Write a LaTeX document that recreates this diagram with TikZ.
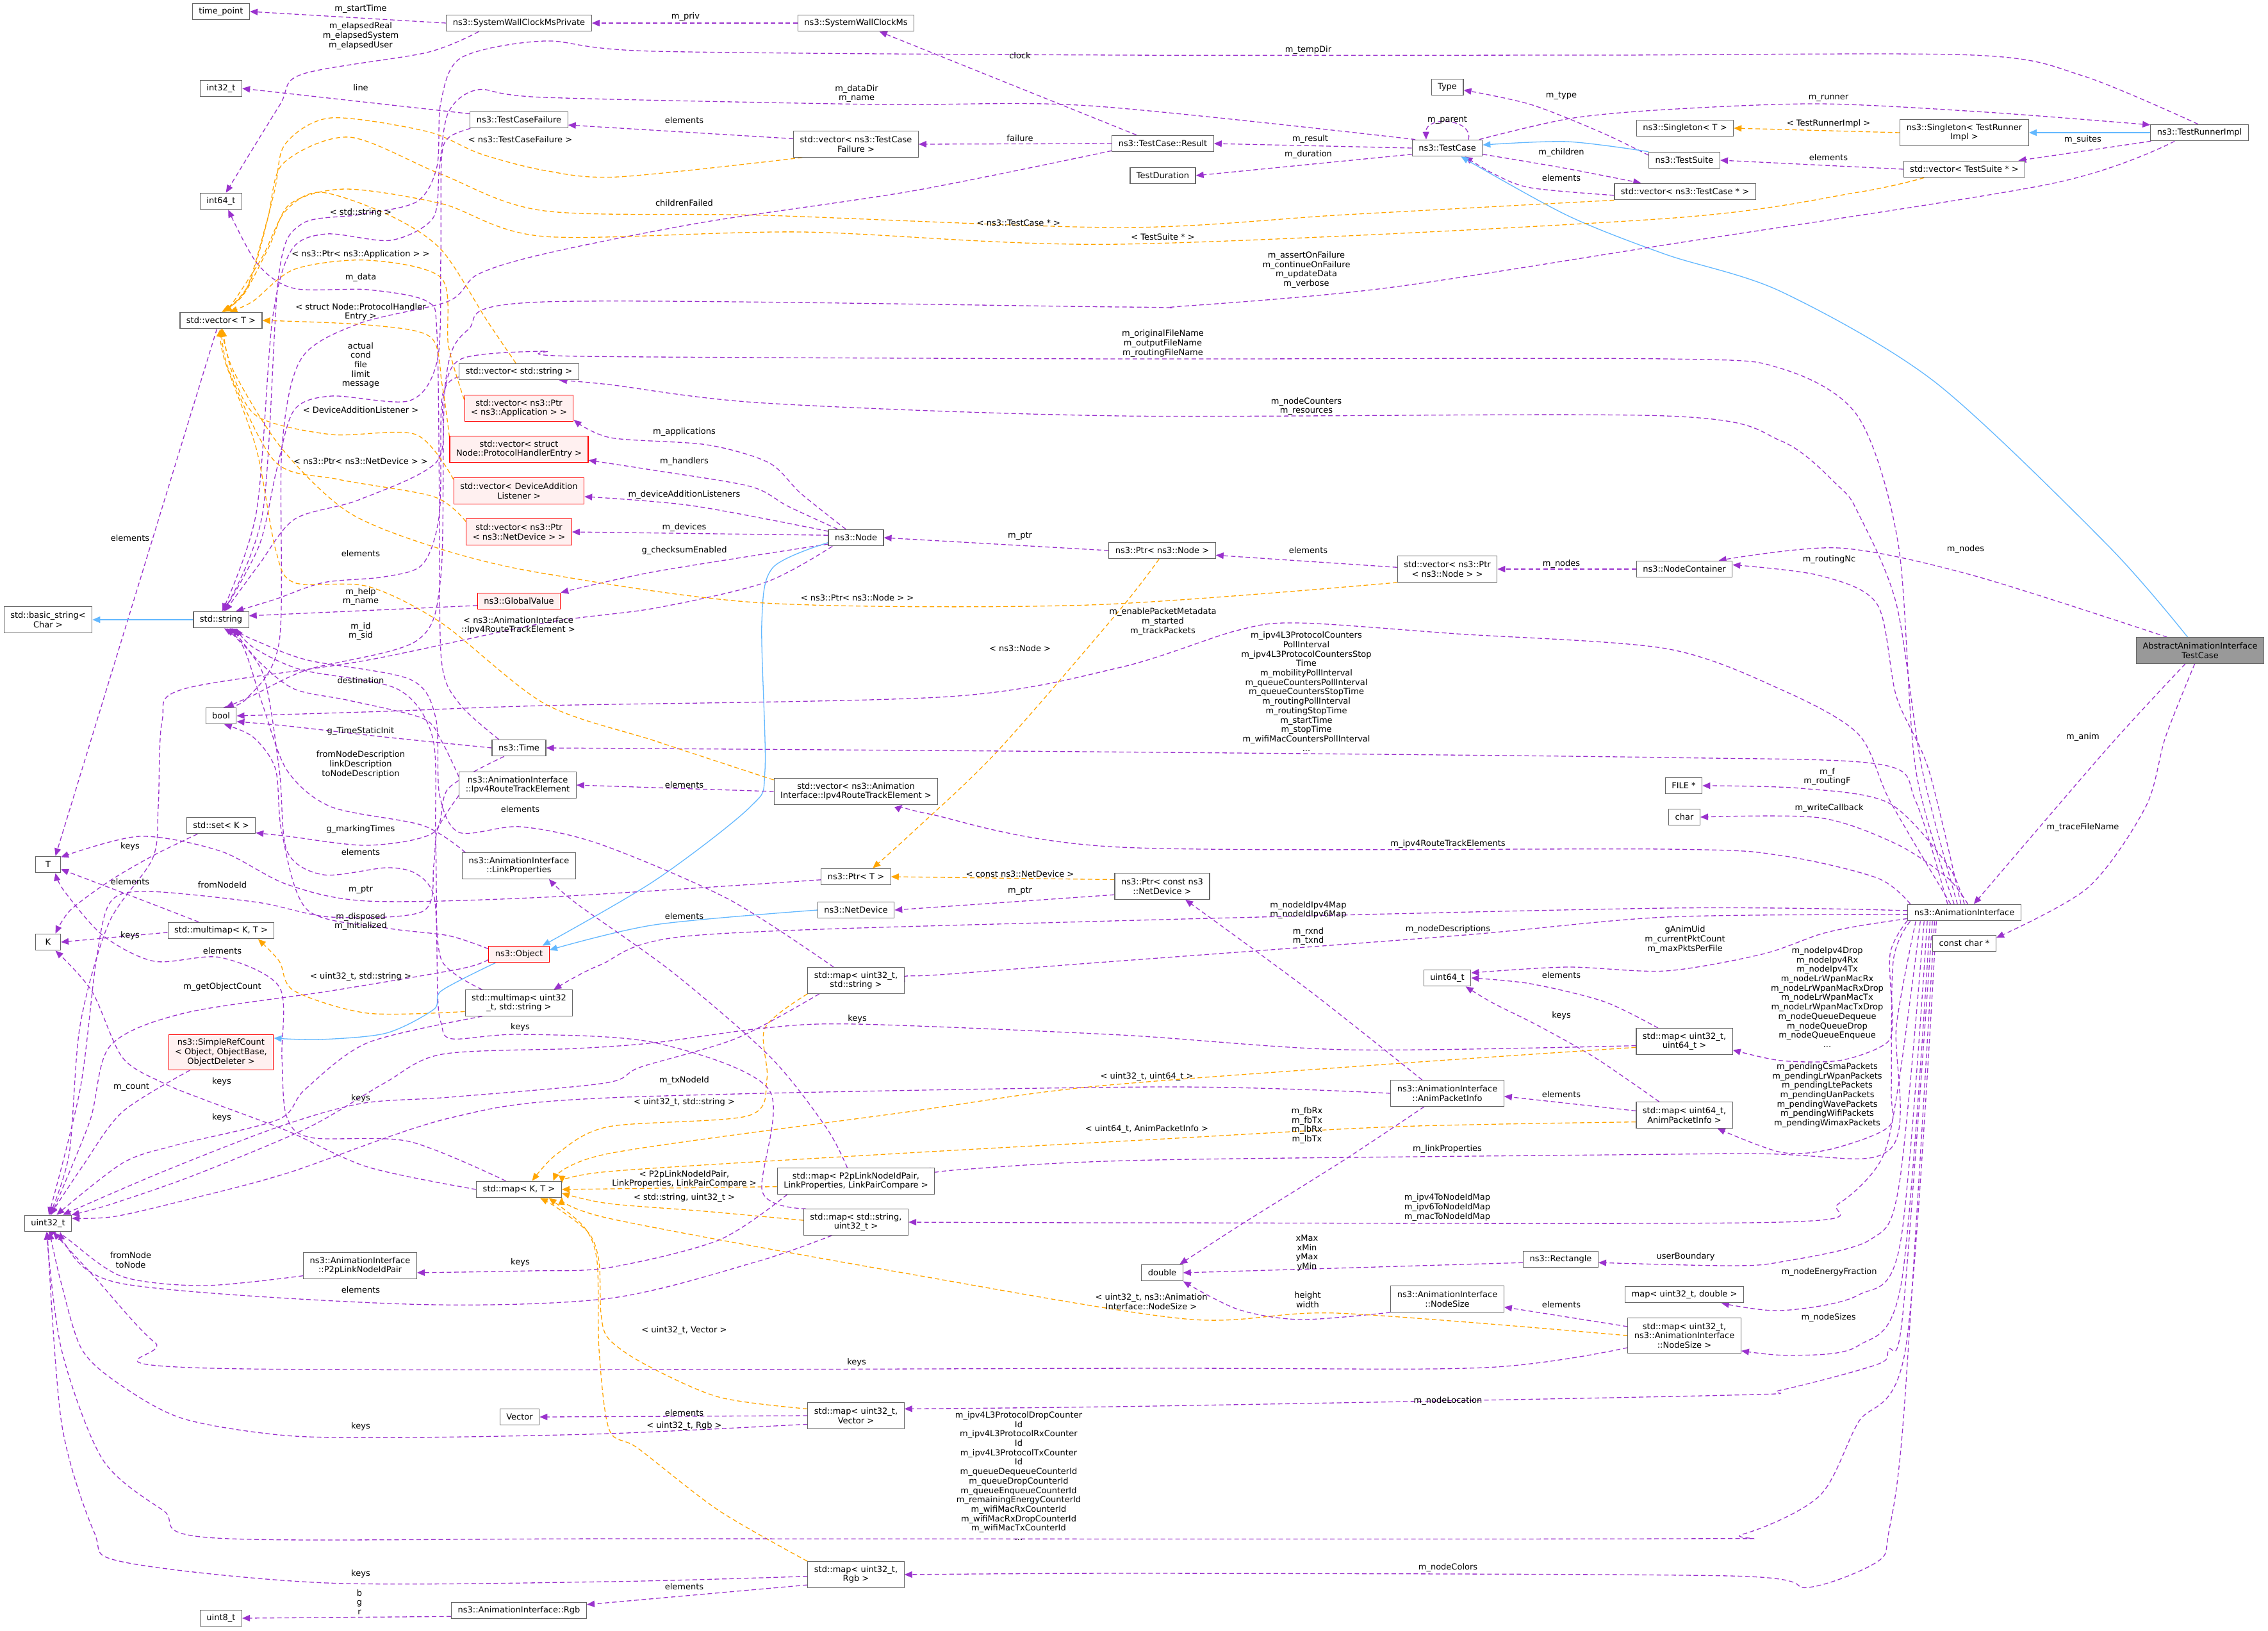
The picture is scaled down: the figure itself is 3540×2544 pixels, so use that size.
\documentclass[tikz,border=0pt]{standalone}
\usepackage{fontspec}
\setmainfont{DejaVu Sans}
\usetikzlibrary{arrows.meta}
\definecolor{pur}{HTML}{9A32CD}
\definecolor{org}{HTML}{FFA500}
\definecolor{blu}{HTML}{63B8FF}
\definecolor{bdr}{HTML}{666666}
\definecolor{rfill}{HTML}{FFF0F0}
\definecolor{rootfill}{HTML}{999999}
\pgfdeclarelayer{bgw}
\pgfdeclarelayer{bg}
\pgfsetlayers{bgw,bg,main}
\newcommand{\cnx}[2]{\draw[#1] plot[smooth,tension=0.5] coordinates {#2};}
\newcommand{\lbx}[3]{\node[lbl] (#1) at (#2) {#3};}
\tikzset{
 every node/.style={font=\fontsize{13}{14.7}\selectfont},
 box/.style={draw=bdr, line width=1.2pt, fill=white, inner xsep=10pt, inner ysep=0pt, minimum height=25.5pt, align=center},
 box2/.style={box, minimum height=40.5pt},
 box3/.style={box, minimum height=55pt},
 rbox/.style={box, draw=red, fill=rfill},
 rbox2/.style={box2, draw=red, fill=rfill},
 rbox3/.style={box3, draw=red, fill=rfill},
 root/.style={box2, fill=rootfill},
 lbl/.style={inner sep=0pt, align=center},
 pe/.style={draw=pur, line width=1.3pt, dash pattern=on 7pt off 4.5pt, -{Triangle[length=12pt,width=10pt]}, fill=none},
 oe/.style={draw=org, line width=1.3pt, dash pattern=on 7pt off 4.5pt, -{Triangle[length=12pt,width=10pt]}},
 be/.style={draw=blu, line width=1.3pt, -{Triangle[length=12pt,width=10pt]}},
}
\begin{document}
\begin{tikzpicture}[x=1pt,y=-1pt]
\begin{pgfonlayer}{bgw}
\fill[white] (0,0) rectangle (3540,2544);
\end{pgfonlayer}
\useasboundingbox (0,0) rectangle (3540,2544);
% ---------------- nodes
\node[box] (tp) at (345,18) {time\_point};
\node[box] (swcp) at (810,36) {ns3::SystemWallClockMsPrivate};
\node[box] (swc) at (1336,36) {ns3::SystemWallClockMs};
\node[box] (i32) at (345,138) {int32\_t};
\node[box] (tcf) at (810,187) {ns3::TestCaseFailure};
\node[box2] (vtcf) at (1336,225) {std::vector< ns3::TestCase\\Failure >};
\node[box] (tcr) at (1815,224) {ns3::TestCase::Result};
\node[box] (tdur) at (1815,274) {TestDuration};
\node[box] (type) at (2259,136) {Type};
\node[box] (tc) at (2259,231) {ns3::TestCase};
\node[box] (singT) at (2630,200) {ns3::Singleton< T >};
\node[box] (ts) at (2629,250) {ns3::TestSuite};
\node[box] (vtc) at (2630,299) {std::vector< ns3::TestCase * >};
\node[box2] (singR) at (3066,207) {ns3::Singleton< TestRunner\\Impl >};
\node[box] (vts) at (3066,264) {std::vector< TestSuite * >};
\node[box] (tri) at (3433,207) {ns3::TestRunnerImpl};
\node[box] (i64) at (345,314) {int64\_t};
\node[box] (vecT) at (345,500) {std::vector< T >};
\node[box] (vstr) at (810,580) {std::vector< std::string >};
\node[rbox2] (vapp) at (810,637) {std::vector< ns3::Ptr\\< ns3::Application > >};
\node[rbox2] (vphe) at (810,701) {std::vector< struct\\Node::ProtocolHandlerEntry >};
\node[rbox2] (vdal) at (810,766) {std::vector< DeviceAddition\\Listener >};
\node[rbox2] (vnd) at (810,830) {std::vector< ns3::Ptr\\< ns3::NetDevice > >};
\node[box] (nnode) at (1336,839) {ns3::Node};
\node[box] (ptrnode) at (1814,859) {ns3::Ptr< ns3::Node >};
\node[box2] (vptrnode) at (2259,888) {std::vector< ns3::Ptr\\< ns3::Node > >};
\node[box] (nc) at (2629,888) {ns3::NodeContainer};
\node[root] (aaitc) at (3434,1015) {AbstractAnimationInterface\\TestCase};
\node[box2] (bstr) at (75,967) {std::basic\_string<\\Char >};
\node[box] (str) at (345,967) {std::string};
\node[rbox] (gv) at (810,938) {ns3::GlobalValue};
\node[box] (bool) at (345,1117) {bool};
\node[box] (ntime) at (810,1167) {ns3::Time};
\node[box2] (irte) at (808,1225) {ns3::AnimationInterface\\::Ipv4RouteTrackElement};
\node[box2] (virte) at (1336,1235) {std::vector< ns3::Animation\\Interface::Ipv4RouteTrackElement >};
\node[box] (nfile) at (2628,1226) {FILE *};
\node[box] (chr) at (2629,1275) {char};
\node[box] (nset) at (345,1288) {std::set< K >};
\node[box, minimum width=39pt] (T) at (75,1349) {T};
\node[box2] (lp) at (810,1351) {ns3::AnimationInterface\\::LinkProperties};
\node[box] (ptrT) at (1336,1368) {ns3::Ptr< T >};
\node[box2] (ptrcnd) at (1814,1383) {ns3::Ptr< const ns3\\::NetDevice >};
\node[box] (nd) at (1336,1420) {ns3::NetDevice};
\node[box] (ai) at (3066,1424) {ns3::AnimationInterface};
\node[box] (cch) at (3066,1472) {const char *};
\node[box, minimum width=39pt] (K) at (75,1470) {K};
\node[box] (mmKT) at (345,1452) {std::multimap< K, T >};
\node[rbox] (obj) at (810,1489) {ns3::Object};
\node[box2] (mapu32s) at (1336,1530) {std::map< uint32\_t,\\std::string >};
\node[box] (u64) at (2259,1526) {uint64\_t};
\node[box2] (mmu32s) at (810,1565) {std::multimap< uint32\\\_t, std::string >};
\node[box2] (mapu32u64) at (2629,1625) {std::map< uint32\_t,\\uint64\_t >};
\node[rbox3] (src) at (345,1642) {ns3::SimpleRefCount\\< Object, ObjectBase,\\ObjectDeleter >};
\node[box2] (api) at (2259,1706) {ns3::AnimationInterface\\::AnimPacketInfo};
\node[box2] (mapu64api) at (2629,1740) {std::map< uint64\_t,\\AnimPacketInfo >};
\node[box2] (mapp2p) at (1336,1843) {std::map< P2pLinkNodeIdPair,\\LinkProperties, LinkPairCompare >};
\node[box] (mapKT) at (810,1856) {std::map< K, T >};
\node[box2] (mapsu32) at (1336,1907) {std::map< std::string,\\uint32\_t >};
\node[box] (u32) at (75,1909) {uint32\_t};
\node[box] (rect) at (2436,1965) {ns3::Rectangle};
\node[box2] (p2p) at (562,1975) {ns3::AnimationInterface\\::P2pLinkNodeIdPair};
\node[box] (dbl) at (1814,1986) {double};
\node[box2] (ns) at (2259,2027) {ns3::AnimationInterface\\::NodeSize};
\node[box] (mapu32d) at (2629,2020) {map< uint32\_t, double >};
\node[box3] (mapu32ns) at (2629,2084) {std::map< uint32\_t,\\ns3::AnimationInterface\\::NodeSize >};
\node[box] (vec) at (811,2211) {Vector};
\node[box2] (mapu32v) at (1336,2209) {std::map< uint32\_t,\\Vector >};
\node[box2] (mapu32rgb) at (1336,2457) {std::map< uint32\_t,\\Rgb >};
\node[box] (u8) at (345,2525) {uint8\_t};
\node[box] (rgb) at (810,2513) {ns3::AnimationInterface::Rgb};
% ---------------- edges
\begin{pgfonlayer}{bg}
\draw[pe] (swcp.west) -- (tp.east);
\cnx{pe}{(swcp.192) (666,82) (471,116) (436,165) (i64.60)}
\draw[pe] (swc.west) -- (swcp.east);
\draw[pe] (tcr.162) -- (swc.-20);
\cnx{pe}{(tri.100) (3250,118) (3080,86) (2500,86) (1750,86) (1022,80) (850,64) (720,90) (688,160) (682,260) (650,315) (560,335) (470,350) (435,430) (410,800) (str.75)}
\draw[pe] (tcf.173) -- (i32.east);
\draw[pe] (vtcf.175) -- (tcf.-6);
\cnx{oe}{(vtcf.-166) (965,276) (850,266) (750,240) (666,205) (516,184) (445,225) (428,300) (390,440) (vecT.75)}
\draw[pe] (tcr.west) -- (vtcf.east);
\cnx{pe}{(tcr.188) (1424,298) (1097,347) (850,396) (746,428) (700,470) (560,505) (470,560) (440,700) (436,1000) (385,1090) (bool.75)}
\draw[pe] (tc.west) -- (tcr.east);
\draw[pe] (tc.190) -- (tdur.east);
\cnx{pe}{(tc.165) (1700,165) (1366,163) (850,152) (746,140) (700,175) (686,260) (676,340) (610,375) (510,365) (455,390) (425,500) (400,800) (str.82)}
\draw[pe] (tc.22) .. controls (2300,185) and (2225,180) .. (tc.158);
\cnx{pe}{(ts.172) (2498,206) (2389,163) (type.-10)}
\cnx{pe}{(tc.15) (2450,185) (2600,171) (2840,162) (3100,175) (tri.171)}
\cnx{be}{(ts.north west) (2446,221) (tc.5)}
\cnx{pe}{(tc.-10) (2440,262) (vtc.169)}
\cnx{pe}{(vtc.183) (2389,293) (2331,271) (tc.-26)}
\cnx{be}{(aaitc.133) (3289,850) (3020,596) (2780,455) (2600,397) (2446,336) (tc.-32)}
\cnx{oe}{(vtc.south west) (2100,335) (1750,355) (1194,336) (850,329) (689,272) (545,214) (442,255) (418,340) (385,450) (vecT.80)}
\draw[oe] (singR.west) -- (singT.east);
\draw[be] (tri.west) -- (singR.east);
\draw[pe] (tri.190) -- (vts.9);
\draw[pe] (vts.west) -- (ts.east);
\cnx{oe}{(vts.-168) (2900,300) (2600,341) (1750,381) (1252,362) (850,369) (690,318) (540,295) (453,318) (420,385) (380,460) (vecT.85)}
\cnx{pe}{(tri.-161) (3200,287) (2600,382) (2159,450) (1843,478) (1750,479) (850,471) (730,515) (695,600) (688,900) (650,1000) (480,1045) (395,1085) (bool.60)}
% node group
\cnx{pe}{(nnode.140) (1250,770) (1200,722) (1103,694) (953,683) (vapp.-12)}
\cnx{pe}{(nnode.155) (1230,790) (1171,759) (1022,734) (vphe.-9)}
\cnx{pe}{(nnode.167) (1080,789) (vdal.-5)}
\draw[pe] (nnode.175) -- (vnd.east);
\cnx{pe}{(nnode.-167) (1022,892) (gv.north east)}
\cnx{pe}{(nnode.-160) (1194,909) (1022,949) (850,972) (574,1030) (287,1075) (253,1125) (247,1259) (238,1340) (170,1440) (125,1600) (108,1800) (u32.80)}
\cnx{be}{(nnode.-170) (1206,886) (1189,972) (1194,1202) (1171,1259) (1022,1374) (obj.20)}
\cnx{be}{(nd.west) (1022,1443) (obj.8)}
\draw[pe] (ptrnode.west) -- (nnode.east);
\draw[pe] (vptrnode.178) -- (ptrnode.-5);
\draw[pe] (nc.west) -- (vptrnode.east);
\cnx{oe}{(vptrnode.-165) (1700,944) (1194,941) (850,895) (689,857) (545,800) (440,700) (365,580) (vecT.-85)}
\cnx{oe}{(ptrnode.-110) (1745,955) (1556,1173) (1424,1299) (ptrT.27)}
\draw[oe] (ptrcnd.172) -- (ptrT.east);
\draw[pe] (ptrcnd.190) -- (nd.east);
\cnx{pe}{(api.152) (2044,1546) (ptrcnd.-30)}
\cnx{pe}{(ai.171) (2930,1370) (2780,1335) (2600,1325) (1750,1322) (1450,1270) (virte.-16)}
\draw[pe] (virte.west) -- (irte.east);
\cnx{pe}{(ai.153) (2990,1250) (2936,1193) (2600,1182) (1700,1173) (ntime.east)}
\cnx{pe}{(ai.148) (2950,1250) (2900,1145) (2780,1076) (2600,1012) (2274,989) (2027,972) (1930,984) (1750,1041) (1481,1087) (850,1101) (600,1110) (bool.east)}
\cnx{pe}{(ai.140) (2990,1200) (2963,850) (2900,650) (2780,575) (2600,560) (1750,560) (907,556) (850,548) (720,560) (692,620) (682,720) (560,780) (460,810) (405,880) (str.65)}
\cnx{pe}{(ai.129) (3000,1200) (2960,943) (2900,800) (2870,759) (2780,688) (2600,649) (1750,649) (1194,629) (950,600) (vstr.-12)}
\cnx{pe}{(ai.112) (3010,1200) (2960,1087) (2930,943) (2840,898) (nc.5)}
\cnx{pe}{(aaitc.158) (3080,898) (2870,855) (nc.14)}
\cnx{pe}{(aaitc.-138) (3289,1168) (ai.42)}
\cnx{pe}{(aaitc.-112) (3380,1150) (3349,1259) (3259,1385) (cch.10)}
\cnx{pe}{(ai.90) (3040,1350) (2948,1253) (2810,1230) (nfile.east)}
\cnx{pe}{(ai.68) (3040,1370) (2960,1317) (2840,1276) (chr.east)}
\cnx{pe}{(ai.-174) (2900,1445) (2840,1458) (2750,1489) (2600,1515) (2446,1509) (u64.12)}
\cnx{pe}{(mapu32u64.153) (2504,1563) (2389,1535) (u64.east)}
\cnx{pe}{(mapu64api.152) (2489,1650) (2400,1600) (2330,1565) (u64.-25)}
\cnx{pe}{(ai.-172) (2950,1489) (2954,1604) (2936,1633) (2870,1655) (2780,1655) (mapu32u64.-10)}
\cnx{pe}{(ai.-171) (2955,1500) (2952,1700) (2948,1758) (2858,1793) (2780,1798) (mapu64api.-22)}
\cnx{pe}{(ai.-170) (2960,1600) (2948,1795) (2700,1800) (1800,1810) (1500,1825) (mapp2p.5)}
\cnx{pe}{(ai.-169) (2962,1700) (2936,1810) (2870,1878) (2780,1907) (1800,1908) (mapsu32.east)}
\cnx{pe}{(ai.-168) (2964,1850) (2918,1935) (2780,1969) (2700,1975) (rect.-5)}
\draw[pe] (rect.185) -- (dbl.east);
\cnx{pe}{(ai.-167) (2966,1940) (2900,2021) (2780,2045) (mapu32d.-13)}
\cnx{pe}{(ai.-166) (2968,2000) (2900,2100) (2798,2115) (mapu32ns.-15)}
\draw[pe] (mapu32ns.171) -- (ns.-8);
\cnx{pe}{(ns.south west) (2030,2059) (1932,2043) (dbl.south east)}
\cnx{pe}{(api.-150) (2098,1810) (1943,1907) (dbl.26)}
\draw[pe] (mapu64api.175) -- (api.-3);
\cnx{oe}{(mapu64api.-172) (2179,1758) (1800,1778) (1400,1800) (950,1828) (mapKT.8)}
\cnx{oe}{(mapu32u64.-173) (2159,1661) (1700,1696) (1409,1736) (950,1800) (mapKT.14)}
\cnx{oe}{(mapu32s.south west) (1194,1604) (1197,1684) (1168,1741) (950,1758) (870,1800) (mapKT.33)}
\draw[oe] (mapp2p.-176) -- (mapKT.east);
\cnx{oe}{(mapsu32.178) (1100,1890) (950,1878) (mapKT.-5)}
\cnx{oe}{(mapu32ns.180) (2087,2049) (1850,2058) (1409,1986) (950,1901) (mapKT.-10)}
\cnx{oe}{(mapu32v.172) (1122,2180) (1007,2129) (950,2089) (938,2049) (935,1969) (919,1924) (870,1885) (mapKT.-22)}
\cnx{oe}{(mapu32rgb.north west) (1122,2357) (996,2260) (951,2231) (935,2106) (932,1969) (912,1915) (mapKT.-16)}
\draw[pe] (mapu32v.west) -- (vec.east);
\cnx{pe}{(mapu32v.-170) (950,2237) (638,2243) (447,2240) (287,2214) (191,2163) (128,2106) (95,2000) (u32.-80)}
\cnx{pe}{(ai.-165) (2970,2050) (2948,2106) (2930,2129) (2780,2169) (2700,2177) (1800,2194) (mapu32v.8)}
\draw[pe] (mapu32rgb.-168) -- (rgb.5);
\cnx{pe}{(mapu32rgb.-178) (950,2468) (510,2470) (191,2437) (147,2391) (96,2220) (u32.-95)}
\draw[pe] (rgb.-175) -- (u8.east);
\cnx{pe}{(ai.-164) (2972,2200) (2948,2391) (2930,2437) (2822,2477) (2700,2459) (1800,2455) (mapu32rgb.east)}
\cnx{pe}{(ai.-163) (2975,2100) (2900,2220) (2840,2334) (2720,2394) (2600,2401) (1000,2401) (338,2400) (255,2357) (160,2277) (96,2106) (u32.-100)}
\cnx{pe}{(mapu32ns.-168) (2317,2134) (1800,2135) (332,2135) (242,2095) (147,1992) (u32.-60)}
\cnx{pe}{(mapsu32.-151) (1180,1969) (950,2026) (638,2035) (191,2003) (96,1935) (u32.-45)}
\cnx{pe}{(p2p.-170) (319,2006) (191,1992) (108,1935) (u32.-35)}
\cnx{pe}{(mapp2p.-169) (1122,1935) (950,1978) (829,1983) (p2p.-7)}
\cnx{pe}{(mapp2p.123) (1290,1760) (1203,1650) (1051,1518) (900,1410) (lp.-24)}
\cnx{oe}{(mmu32s.-171) (574,1581) (459,1546) (436,1500) (mmKT.-13)}
\cnx{pe}{(mmKT.159) (218,1403) (T.-20)}
\draw[pe] (mmKT.182) -- (K.east);
\cnx{pe}{(nset.-160) (241,1334) (172,1374) (110,1420) (K.49)}
\cnx{pe}{(ptrT.-175) (850,1400) (574,1406) (448,1380) (344,1328) (218,1305) (T.30)}
\draw[pe] (vecT.-116) -- (T.49);
\cnx{pe}{(mapKT.147) (638,1781) (485,1775) (447,1741) (440,1650) (436,1540) (344,1494) (241,1500) (161,1460) (100,1390) (T.-49)}
\cnx{pe}{(mapKT.west) (574,1821) (447,1764) (319,1716) (255,1690) (191,1650) (143,1546) (K.-49)}
\cnx{pe}{(ntime.157) (717,1098) (689,1030) (686,800) (682,520) (666,470) (574,452) (459,450) (402,412) (i64.-50)}
\cnx{pe}{(tcf.-170) (700,215) (689,250) (688,400) (683,560) (640,625) (517,618) (459,640) (432,732) (405,850) (str.72)}
\cnx{pe}{(vstr.-175) (690,620) (686,800) (660,880) (600,900) (505,909) (430,935) (str.30)}
\draw[pe] (gv.-174) -- (str.8);
\cnx{pe}{(irte.172) (689,1156) (660,1121) (545,1093) (459,1075) (402,1030) (str.-37)}
\cnx{pe}{(ntime.west) (600,1150) (450,1133) (bool.-20)}
\cnx{pe}{(lp.166) (660,1288) (517,1259) (448,1202) (410,1100) (380,1010) (str.-70)}
\cnx{pe}{(ntime.-150) (700,1230) (677,1299) (574,1319) (450,1305) (nset.-12)}
\cnx{pe}{(mapu32s.149) (1137,1403) (936,1317) (812,1290) (717,1299) (686,1240) (680,1120) (640,1060) (480,1030) (400,1000) (str.-45)}
\cnx{pe}{(mmu32s.160) (690,1500) (677,1397) (649,1363) (603,1354) (505,1365) (448,1328) (436,1202) (410,1050) (str.-55)}
\cnx{pe}{(mapsu32.165) (1190,1860) (1200,1700) (1022,1627) (812,1614) (706,1621) (689,1598) (683,1546) (680,1300) (675,1150) (620,1075) (470,1045) (395,1010) (str.-30)}
\cnx{pe}{(mapu32u64.-175) (2102,1638) (1750,1615) (1338,1598) (1194,1604) (1022,1627) (900,1636) (690,1645) (600,1690) (480,1760) (300,1835) (170,1880) (u32.20)}
\cnx{pe}{(mmu32s.-160) (574,1627) (476,1700) (434,1747) (274,1787) (191,1815) (u32.45)}
\cnx{pe}{(src.-150) (191,1735) (128,1821) (u32.75)}
\cnx{be}{(obj.-160) (689,1546) (677,1575) (603,1612) (500,1622) (src.15)}
\cnx{pe}{(obj.-170) (717,1512) (517,1546) (287,1581) (172,1632) (140,1750) (u32.70)}
\cnx{pe}{(obj.170) (700,1460) (603,1448) (480,1420) (440,1300) (430,1200) (395,1150) (bool.-70)}
\cnx{pe}{(irte.-170) (683,1294) (677,1350) (660,1422) (517,1431) (402,1408) (230,1391) (172,1408) (150,1500) (125,1700) (u32.85)}
\cnx{pe}{(ai.178) (2600,1417) (1700,1438) (1080,1460) (936,1506) (mmu32s.21)}
\cnx{pe}{(ai.-178) (2600,1431) (2274,1460) (1700,1503) (1450,1522) (mapu32s.8)}
\cnx{pe}{(api.west) (1800,1696) (950,1713) (700,1745) (450,1830) (300,1870) (180,1898) (u32.12)}
\draw[be] (str.west) -- (bstr.east);
\cnx{pe}{(mapu32s.-160) (1150,1620) (1000,1665) (944,1690) (702,1712) (563,1722) (430,1760) (250,1830) (u32.30)}
\cnx{oe}{(vstr.110) (760,500) (689,390) (608,336) (500,300) (445,330) (410,400) (365,470) (vecT.70)}
\cnx{oe}{(vapp.171) (700,540) (689,434) (574,406) (460,420) (395,470) (vecT.45)}
\cnx{oe}{(vphe.170) (690,600) (672,526) (574,507) (vecT.east)}
\cnx{oe}{(vdal.170) (649,678) (517,678) (402,650) (362,580) (vecT.-80)}
\cnx{oe}{(vnd.169) (677,775) (528,748) (430,721) (358,580) (vecT.-88)}
\cnx{oe}{(virte.172) (1022,1156) (850,1098) (689,972) (574,915) (459,909) (430,857) (400,700) (350,560) (vecT.-95)}
\end{pgfonlayer}
% ---------------- labels
\lbx{l1}{563,14}{m\_startTime}
\lbx{l2}{563,56}{m\_elapsedReal\\m\_elapsedSystem\\m\_elapsedUser}
\lbx{l3}{1070,26}{m\_priv}
\lbx{l4}{1592,87}{clock}
\lbx{l5}{2042,78}{m\_tempDir}
\lbx{l6}{563,137}{line}
\lbx{l7}{1068,188}{elements}
\lbx{l8}{812,218}{< ns3::TestCaseFailure >}
\lbx{l9}{1592,216}{failure}
\lbx{l10}{1068,317}{childrenFailed}
\lbx{l11}{2045,217}{m\_result}
\lbx{l12}{2042,241}{m\_duration}
\lbx{l13}{1337,146}{m\_dataDir\\m\_name}
\lbx{l14}{2259,187}{m\_parent}
\lbx{l15}{2437,149}{m\_type}
\lbx{l16}{2854,153}{m\_runner}
\lbx{l18}{2437,238}{m\_children}
\lbx{l19}{2437,278}{elements}
\lbx{l21}{1590,348}{< ns3::TestCase * >}
\lbx{l22}{2854,193}{< TestRunnerImpl >}
\lbx{l24}{3251,218}{m\_suites}
\lbx{l25}{2854,246}{elements}
\lbx{l26}{1815,370}{< TestSuite * >}
\lbx{l27}{2039,421}{m\_assertOnFailure\\m\_continueOnFailure\\m\_updateData\\m\_verbose}
\lbx{l28}{1068,674}{m\_applications}
\lbx{l29}{1068,720}{m\_handlers}
\lbx{l30}{1068,772}{m\_deviceAdditionListeners}
\lbx{l31}{1068,823}{m\_devices}
\lbx{l32}{1068,859}{g\_checksumEnabled}
\lbx{l33}{563,985}{m\_id\\m\_sid}
\lbx{l36}{1592,836}{m\_ptr}
\lbx{l37}{2042,859}{elements}
\lbx{l38}{2437,880}{m\_nodes}
\lbx{l39}{1338,933}{< ns3::Ptr< ns3::Node > >}
\lbx{l40}{1592,1012}{< ns3::Node >}
\lbx{l41}{1592,1364}{< const ns3::NetDevice >}
\lbx{l42}{1592,1390}{m\_ptr}
\lbx{l43}{2042,1461}{m\_rxnd\\m\_txnd}
\lbx{l44}{2260,1317}{m\_ipv4RouteTrackElements}
\lbx{l45}{1068,1225}{elements}
\lbx{l46}{2039,1079}{m\_ipv4L3ProtocolCounters\\PollInterval\\m\_ipv4L3ProtocolCountersStop\\Time\\m\_mobilityPollInterval\\m\_queueCountersPollInterval\\m\_queueCountersStopTime\\m\_routingPollInterval\\m\_routingStopTime\\m\_startTime\\m\_stopTime\\m\_wifiMacCountersPollInterval\\...}
\lbx{l47}{1815,970}{m\_enablePacketMetadata\\m\_started\\m\_trackPackets}
\lbx{l48}{1815,536}{m\_originalFileName\\m\_outputFileName\\m\_routingFileName}
\lbx{l49}{2039,634}{m\_nodeCounters\\m\_resources}
\lbx{l50}{2855,873}{m\_routingNc}
\lbx{l51}{3068,857}{m\_nodes}
\lbx{l52}{3251,1150}{m\_anim}
\lbx{l53}{3251,1291}{m\_traceFileName}
\lbx{l54}{2852,1212}{m\_f\\m\_routingF}
\lbx{l55}{2855,1261}{m\_writeCallback}
\lbx{l56}{2630,1466}{gAnimUid\\m\_currentPktCount\\m\_maxPktsPerFile}
\lbx{l57}{2437,1522}{elements}
\lbx{l58}{2437,1585}{keys}
\lbx{l59}{2852,1556}{m\_nodeIpv4Drop\\m\_nodeIpv4Rx\\m\_nodeIpv4Tx\\m\_nodeLrWpanMacRx\\m\_nodeLrWpanMacRxDrop\\m\_nodeLrWpanMacTx\\m\_nodeLrWpanMacTxDrop\\m\_nodeQueueDequeue\\m\_nodeQueueDrop\\m\_nodeQueueEnqueue\\...}
\lbx{l60}{2852,1709}{m\_pendingCsmaPackets\\m\_pendingLrWpanPackets\\m\_pendingLtePackets\\m\_pendingUanPackets\\m\_pendingWavePackets\\m\_pendingWifiPackets\\m\_pendingWimaxPackets}
\lbx{l61}{2259,1793}{m\_linkProperties}
\lbx{l62}{2259,1884}{m\_ipv4ToNodeIdMap\\m\_ipv6ToNodeIdMap\\m\_macToNodeIdMap}
\lbx{l63}{2631,1961}{userBoundary}
\lbx{l64}{2040,1955}{xMax\\xMin\\yMax\\yMin}
\lbx{l65}{2855,1985}{m\_nodeEnergyFraction}
\lbx{l66}{2854,2056}{m\_nodeSizes}
\lbx{l67}{2437,2036}{elements}
\lbx{l68}{2041,2028}{height\\width}
\lbx{l69}{2040,1756}{m\_fbRx\\m\_fbTx\\m\_lbRx\\m\_lbTx}
\lbx{l70}{2437,1708}{elements}
\lbx{l71}{1790,1762}{< uint64\_t, AnimPacketInfo >}
\lbx{l72}{1790,1680}{< uint32\_t, uint64\_t >}
\lbx{l73}{1068,1720}{< uint32\_t, std::string >}
\lbx{l74}{1068,1840}{< P2pLinkNodeIdPair,\\LinkProperties, LinkPairCompare >}
\lbx{l75}{1068,1869}{< std::string, uint32\_t >}
\lbx{l76}{1797,2031}{< uint32\_t, ns3::Animation\\Interface::NodeSize >}
\lbx{l77}{1068,2076}{< uint32\_t, Vector >}
\lbx{l78}{1068,2225}{< uint32\_t, Rgb >}
\lbx{l79}{1068,2205}{elements}
\lbx{l80}{563,2226}{keys}
\lbx{l81}{2260,2186}{m\_nodeLocation}
\lbx{l82}{1068,2476}{elements}
\lbx{l83}{563,2456}{keys}
\lbx{l84}{561,2500}{b\\g\\r}
\lbx{l85}{2260,2446}{m\_nodeColors}
\lbx{l86}{1590,2303}{m\_ipv4L3ProtocolDropCounter\\Id\\m\_ipv4L3ProtocolRxCounter\\Id\\m\_ipv4L3ProtocolTxCounter\\Id\\m\_queueDequeueCounterId\\m\_queueDropCounterId\\m\_queueEnqueueCounterId\\m\_remainingEnergyCounterId\\m\_wifiMacRxCounterId\\m\_wifiMacRxDropCounterId\\m\_wifiMacTxCounterId\\...}
\lbx{l87}{1337,2126}{keys}
\lbx{l88}{563,2013}{elements}
\lbx{l89}{204,1966}{fromNode\\toNode}
\lbx{l90}{812,1970}{keys}
\lbx{l91}{1068,1430}{elements}
\lbx{l92}{563,1524}{< uint32\_t, std::string >}
\lbx{l93}{203,1376}{elements}
\lbx{l94}{203,1460}{keys}
\lbx{l95}{203,1321}{keys}
\lbx{l96}{563,1388}{m\_ptr}
\lbx{l97}{203,840}{elements}
\lbx{l98}{347,1484}{elements}
\lbx{l99}{346,1688}{keys}
\lbx{l100}{563,433}{m\_data}
\lbx{l101}{563,570}{actual\\cond\\file\\limit\\message}
\lbx{l102}{563,864}{elements}
\lbx{l103}{563,931}{m\_help\\m\_name}
\lbx{l104}{563,1062}{destination}
\lbx{l105}{563,1141}{g\_TimeStaticInit}
\lbx{l106}{563,1193}{fromNodeDescription\\linkDescription\\toNodeDescription}
\lbx{l107}{563,1294}{g\_markingTimes}
\lbx{l108}{812,1263}{elements}
\lbx{l109}{563,1330}{elements}
\lbx{l110}{812,1603}{keys}
\lbx{l111}{1338,1590}{keys}
\lbx{l112}{346,1744}{keys}
\lbx{l113}{205,1696}{m\_count}
\lbx{l115}{347,1540}{m\_getObjectCount}
\lbx{l116}{563,1438}{m\_disposed\\m\_initialized}
\lbx{l117}{347,1381}{fromNodeId}
\lbx{l118}{2042,1420}{m\_nodeIdIpv4Map\\m\_nodeIdIpv6Map}
\lbx{l119}{2260,1450}{m\_nodeDescriptions}
\lbx{l120}{1068,1686}{m\_txNodeId}
\lbx{l122}{563,1714}{keys}
\lbx{l123}{563,332}{< std::string >}
\lbx{l124}{563,397}{< ns3::Ptr< ns3::Application > >}
\lbx{l125}{563,487}{< struct Node::ProtocolHandler\\Entry >}
\lbx{l126}{563,640}{< DeviceAdditionListener >}
\lbx{l127}{563,720}{< ns3::Ptr< ns3::NetDevice > >}
\lbx{l128}{809,976}{< ns3::AnimationInterface\\::Ipv4RouteTrackElement >}
\end{tikzpicture}
\end{document}
